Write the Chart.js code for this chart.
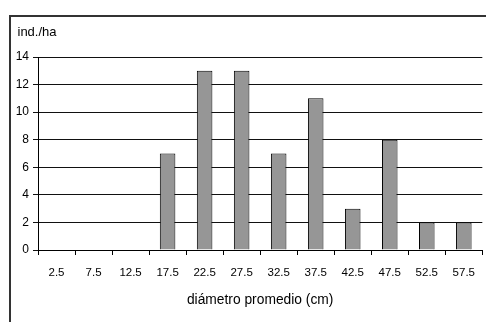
<!DOCTYPE html>
<html>
<head>
<meta charset="utf-8">
<script src="https://cdn.jsdelivr.net/npm/chart.js@4/dist/chart.umd.min.js"></script>
<style>
  html, body { margin: 0; padding: 0; background: #fff; }
  #wrap { position: relative; width: 486px; height: 322px; }
</style>
</head>
<body>
<div id="wrap"><canvas id="c" width="486" height="322"></canvas></div>
<script>
// Diameter classes (cm) and stem density per class
const diameterClasses = ['2.5', '7.5', '12.5', '17.5', '22.5', '27.5', '32.5', '37.5', '42.5', '47.5', '52.5', '57.5'];
const stemsPerHa = [0, 0, 0, 7, 13, 13, 7, 11, 3, 8, 2, 2];
const yTicks = [0, 2, 4, 6, 8, 10, 12, 14];
const yUnitLabel = 'ind./ha';
const xAxisTitle = 'diámetro promedio (cm)';

const FONT = 'Arial, "Liberation Sans", sans-serif';

// Frame lines and the unit label above the value axis
const framePlugin = {
  id: 'frame',
  afterDraw(chart) {
    const ctx = chart.ctx;
    ctx.save();
    ctx.strokeStyle = '#333';
    ctx.lineWidth = 2;
    ctx.beginPath();
    ctx.moveTo(10, 322);
    ctx.lineTo(10, 16);
    ctx.lineTo(486, 16);
    ctx.stroke();
    ctx.fillStyle = '#000';
    ctx.font = '13px ' + FONT;
    ctx.textAlign = 'left';
    ctx.textBaseline = 'alphabetic';
    ctx.fillText(yUnitLabel, 17.5, 36);
    ctx.restore();
  }
};

new Chart(document.getElementById('c'), {
  type: 'bar',
  data: {
    labels: diameterClasses,
    datasets: [{
      data: stemsPerHa,
      backgroundColor: '#969696',
      borderColor: '#000',
      borderWidth: 1,
      barPercentage: 0.42,
      categoryPercentage: 1.0
    }]
  },
  options: {
    responsive: false,
    animation: false,
    devicePixelRatio: 1,
    layout: { padding: { left: 10, top: 57, right: 0, bottom: 0 } },
    plugins: { legend: { display: false }, tooltip: { enabled: false } },
    scales: {
      x: {
        offset: true,
        grid: {
          offset: true,
          drawOnChartArea: false,
          drawTicks: true,
          tickLength: 5,
          color: '#000'
        },
        border: { color: '#000', width: 1 },
        ticks: {
          color: '#000',
          font: { family: FONT, size: 11.5 },
          padding: 11,
          maxRotation: 0,
          autoSkip: false
        },
        title: {
          display: true,
          text: xAxisTitle,
          color: '#000',
          font: { family: FONT, size: 13.8 },
          padding: { top: 0, bottom: 14 }
        },
        afterFit(scale) { scale.height = 72; }
      },
      y: {
        min: 0,
        max: 14,
        afterBuildTicks(scale) { scale.ticks = yTicks.map(v => ({ value: v })); },
        grid: {
          color: '#111',
          lineWidth: 1,
          drawTicks: true,
          tickLength: 5
        },
        border: { color: '#000', width: 1 },
        ticks: {
          color: '#000',
          font: { family: FONT, size: 12 },
          padding: 4
        },
        afterFit(scale) { scale.width = 28; }
      }
    }
  },
  plugins: [framePlugin]
});
</script>
</body>
</html>
